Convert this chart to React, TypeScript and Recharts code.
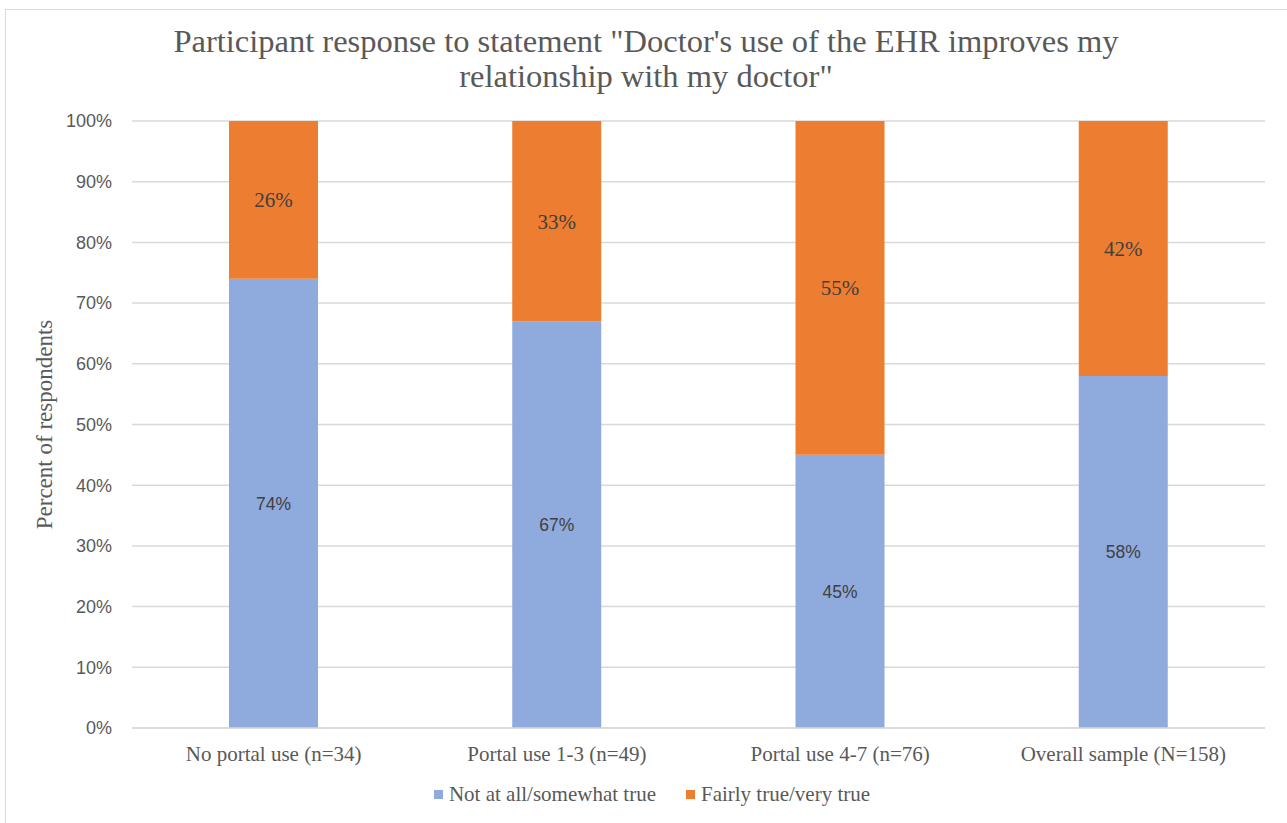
import React from "react";
import { BarChart, Bar, XAxis, YAxis, CartesianGrid, Legend, LabelList, Label } from "recharts";

const categories = [
  "No portal use (n=34)",
  "Portal use 1-3 (n=49)",
  "Portal use 4-7 (n=76)",
  "Overall sample (N=158)",
];
const notAtAllSomewhat = [74, 67, 45, 58];
const fairlyVeryTrue = [26, 33, 55, 42];
const yTicks = [0, 10, 20, 30, 40, 50, 60, 70, 80, 90, 100];
const seriesOrder = ["low", "high"];

const data = categories.map((name, i) => ({
  name,
  low: notAtAllSomewhat[i],
  high: fairlyVeryTrue[i],
}));

const BLUE = "#8faadc";
const ORANGE = "#ed7d31";
const TEXT = "#595959";
const SERIF = "'Liberation Serif', 'Times New Roman', serif";
const SANS = "'Liberation Sans', Arial, sans-serif";

const LegendContent = (props: any) => {
  const items = [...(props.payload || [])].sort(
    (a: any, b: any) => seriesOrder.indexOf(a.dataKey) - seriesOrder.indexOf(b.dataKey)
  );
  return (
    <div style={{ display: "flex", justifyContent: "center", gap: 30, fontFamily: SERIF, fontSize: 21, color: TEXT }}>
      {items.map((p: any) => (
        <div key={p.value} style={{ display: "flex", alignItems: "center" }}>
          <span style={{ width: 9, height: 9, background: p.color, display: "inline-block", marginRight: 6 }} />
          <span>{p.value}</span>
        </div>
      ))}
    </div>
  );
};

export default function App() {
  return (
    <div style={{ position: "fixed", left: 0, top: 0, width: 1287, height: 823, background: "#fff", overflow: "hidden" }}>
      <div
        style={{
          position: "absolute",
          left: 5,
          top: 9,
          width: 1300,
          height: 830,
          border: "1.5px solid #d9d9d9",
          boxSizing: "border-box",
        }}
      />
      <div
        style={{
          position: "absolute",
          left: 0,
          top: 24,
          width: 1292,
          textAlign: "center",
          fontFamily: SERIF,
          fontSize: 32.5,
          lineHeight: "35px",
          color: TEXT,
        }}
      >
        Participant response to statement "Doctor's use of the EHR improves my
        <br />
        relationship with my doctor"
      </div>
      <div style={{ position: "absolute", left: 0, top: 0 }}>
        <BarChart
          width={1287}
          height={823}
          data={data}
          margin={{ top: 121, right: 22, bottom: 40, left: 0 }}
          barCategoryGap={97}
        >
          <CartesianGrid vertical={false} stroke="#d9d9d9" strokeWidth={1.5} />
          <XAxis
            dataKey="name"
            height={30}
            axisLine={{ stroke: "#d9d9d9", strokeWidth: 1.5 }}
            tickLine={false}
            tickMargin={12}
            tick={{ fill: TEXT, fontFamily: SERIF, fontSize: 21 }}
          />
          <YAxis
            width={132}
            domain={[0, 100]}
            ticks={yTicks}
            tickFormatter={(v: number) => `${v}%`}
            axisLine={false}
            tickLine={false}
            tickSize={0}
            tickMargin={20}
            tick={{ fill: TEXT, fontFamily: SANS, fontSize: 18 }}
          >
            <Label
              value="Percent of respondents"
              angle={-90}
              position="insideLeft"
              offset={44}
              style={{ fill: TEXT, fontFamily: SERIF, fontSize: 23, textAnchor: "middle" }}
            />
          </YAxis>
          <Legend
            verticalAlign="bottom"
            content={<LegendContent />}
            wrapperStyle={{ left: 0, width: 1304, top: 782 }}
          />
          <Bar dataKey="low" name="Not at all/somewhat true" stackId="a" fill={BLUE} isAnimationActive={false}>
            <LabelList
              dataKey="low"
              position="center"
              formatter={(v: number) => `${v}%`}
              fill="#404040"
              fontFamily={SANS}
              fontSize={17.5}
            />
          </Bar>
          <Bar dataKey="high" name="Fairly true/very true" stackId="a" fill={ORANGE} isAnimationActive={false}>
            <LabelList
              dataKey="high"
              position="center"
              formatter={(v: number) => `${v}%`}
              fill="#404040"
              fontFamily={SERIF}
              fontSize={21}
            />
          </Bar>
        </BarChart>
      </div>
    </div>
  );
}
